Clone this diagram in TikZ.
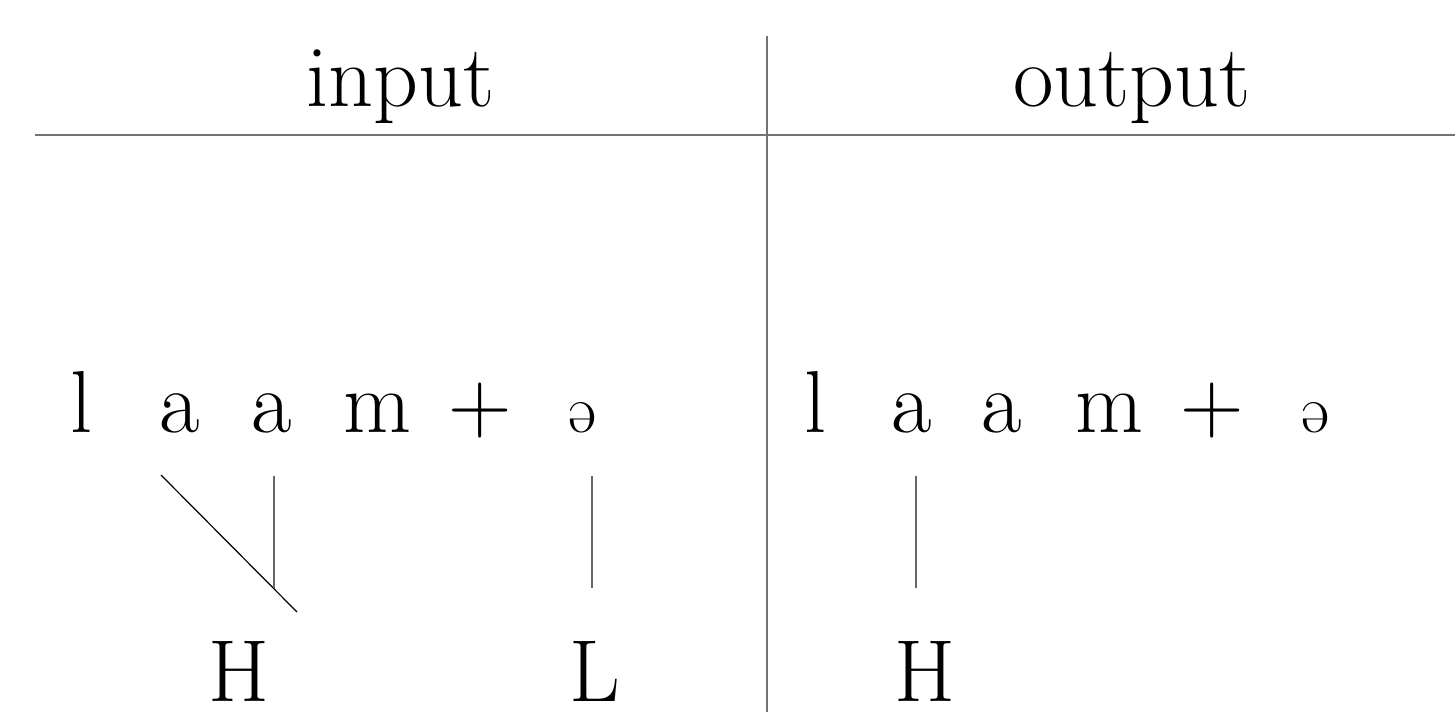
\documentclass[tikz,border=0pt]{standalone}
\usepackage{fontspec}
\newfontfamily\ipafont{Liberation Serif}
\begin{document}
\begin{tikzpicture}[x=0.5pt,y=-0.5pt,
  seg/.style={anchor=base,inner sep=0pt,font=\fontsize{44}{50}\selectfont},
  ipa/.style={anchor=base,inner sep=0pt,font=\fontsize{34}{40}\selectfont},
  divider/.style={draw=black!55,line width=1pt},
  assoc/.style={draw=black!60,line width=0.6pt},
  diag/.style={draw=black,line width=0.6pt}]
\useasboundingbox (0,0) rectangle (1455,712);
% table rules
\coordinate (hl) at (35,135);
\coordinate (hr) at (1455,135);
\coordinate (vt) at (767,36);
\coordinate (vb) at (767,712);
\draw[divider] (hl) -- (hr);
\draw[divider] (vt) -- (vb);
% headers
\node[seg] (input) at (401,106) {input};
\node[seg] (output) at (1132,106) {output};
% input segments
\node[seg] (l1) at (81,432) {l};
\node[seg] (a1) at (180,432) {a};
\node[seg] (a2) at (272,432) {a};
\node[seg] (m1) at (377,432) {m};
\node[seg] (p1) at (480,432) {+};
\node[ipa] (e1) at (582,432) {ə};
\node[seg] (H1) at (239,701) {H};
\node[seg] (L1) at (595,701) {L};
% output segments
\node[seg] (l2) at (815,432) {l};
\node[seg] (b1) at (912,432) {a};
\node[seg] (b2) at (1002,432) {a};
\node[seg] (m2) at (1109,432) {m};
\node[seg] (p2) at (1212,432) {+};
\node[ipa] (e2) at (1315,432) {ə};
\node[seg] (H2) at (925,701) {H};
% association line end points
\coordinate (d1) at (161,475);
\coordinate (d2) at (297,612);
\coordinate (v1) at (274,476);
\coordinate (v2) at (274,588);
\coordinate (w1) at (592,476);
\coordinate (w2) at (592,588);
\coordinate (u1) at (916,476);
\coordinate (u2) at (916,588);
\draw[diag] (d1) -- (d2);
\draw[assoc] (v1) -- (v2);
\draw[assoc] (w1) -- (w2);
\draw[assoc] (u1) -- (u2);
\end{tikzpicture}
\end{document}
